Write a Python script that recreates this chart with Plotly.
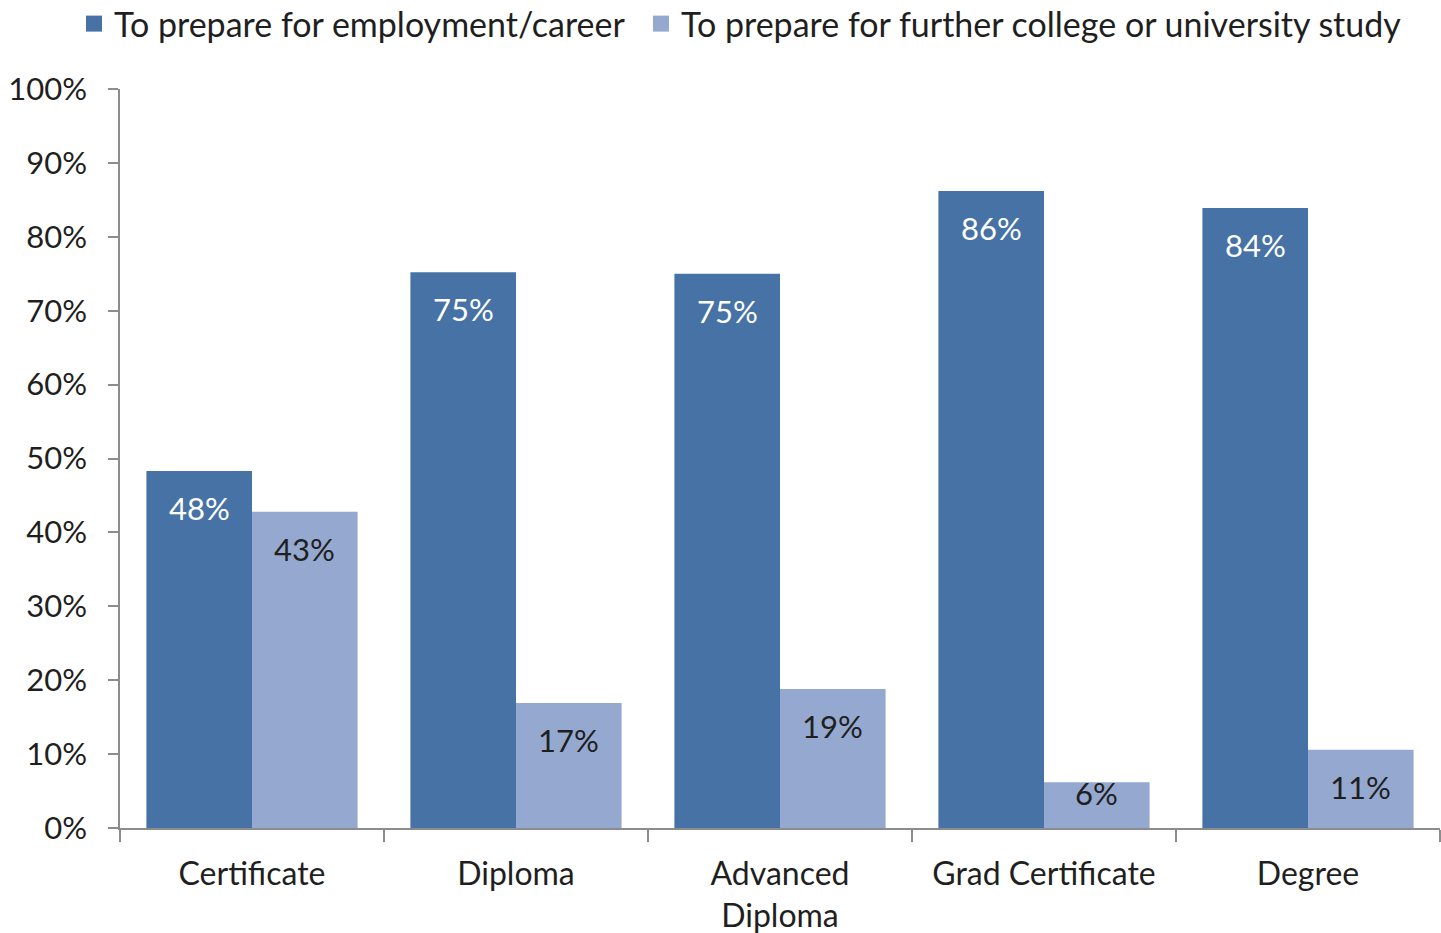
import plotly.graph_objects as go

# Survey: main purpose of study by qualification level
categories = ["Certificate", "Diploma", "Advanced<br>Diploma", "Grad Certificate", "Degree"]
employment = [48.3, 75.2, 75.0, 86.2, 83.9]
further_study = [42.8, 16.9, 18.8, 6.2, 10.6]
series_names = ["To prepare for employment/career",
                "To prepare for further college or university study"]
y_ticks = list(range(0, 101, 10))

DARK = "#4672A6"
LIGHT = "#95A9D0"
FONT = "Lato"
TEXT = "#1f1f1f"
AXIS = "#8c8c8c"

W, H = 1441, 933
M_L, M_R, M_T, M_B = 120, 1, 89, 105
plot_h = H - M_T - M_B
px_per_unit = plot_h / 100.0

fig = go.Figure()
fig.add_trace(go.Bar(x=categories, y=employment, marker=dict(color=DARK, line=dict(width=0)),
                     showlegend=False, hoverinfo="skip"))
fig.add_trace(go.Bar(x=categories, y=further_study, marker=dict(color=LIGHT, line=dict(width=0)),
                     showlegend=False, hoverinfo="skip"))

# legend entries drawn as square markers, one legend box per series
for name, col, lg in zip(series_names, [DARK, LIGHT], ["legend", "legend2"]):
    fig.add_trace(go.Scatter(x=[None], y=[None], mode="markers", name=name, legend=lg,
                             marker=dict(symbol="square", size=18, color=col)))

# value labels just inside the top of each bar
bar_w = (W - M_L - M_R) / len(categories) * 0.8 / 2
for vals, sign, col in [(employment, -1, "white"), (further_study, 1, TEXT)]:
    for cat, v in zip(categories, vals):
        bar_px = v * px_per_unit
        drop = min(37, bar_px - 35)
        fig.add_annotation(x=cat, y=v, text=f"{v:.0f}%", showarrow=False,
                           xshift=sign * bar_w / 2, yshift=-drop, yanchor="middle",
                           font=dict(family=FONT, size=31, color=col))

legend_common = dict(orientation="h", xref="container", yref="container",
                     y=1 - 24 / H, xanchor="left", yanchor="middle",
                     font=dict(family=FONT, size=34, color=TEXT), itemsizing="trace",
                     bgcolor="rgba(0,0,0,0)")

fig.update_layout(
    width=W, height=H,
    margin=dict(l=M_L, r=M_R, t=M_T, b=M_B, autoexpand=False),
    paper_bgcolor="white", plot_bgcolor="white",
    barmode="group", bargap=0.2, bargroupgap=0,
    font=dict(family=FONT, color=TEXT),
    legend=dict(x=74 / W, **legend_common),
    legend2=dict(x=641 / W, **legend_common),
    xaxis=dict(showline=True, linecolor=AXIS, linewidth=1.5, ticks="outside",
               tickson="boundaries", ticklen=12, tickcolor=AXIS, tickwidth=1.5,
               showgrid=False, range=[-0.5, 4.5], ticklabelstandoff=17,
               tickfont=dict(family=FONT, size=32, color=TEXT)),
    yaxis=dict(showline=True, linecolor=AXIS, linewidth=1.5, ticks="outside",
               ticklen=10, tickcolor=AXIS, tickwidth=1.5, showgrid=False,
               range=[0, 100], tickvals=y_ticks, ticktext=[f"{t}%" for t in y_ticks],
               zeroline=False, ticklabelstandoff=15,
               tickfont=dict(family=FONT, size=31, color=TEXT)),
)

fig.write_html("out.html")
